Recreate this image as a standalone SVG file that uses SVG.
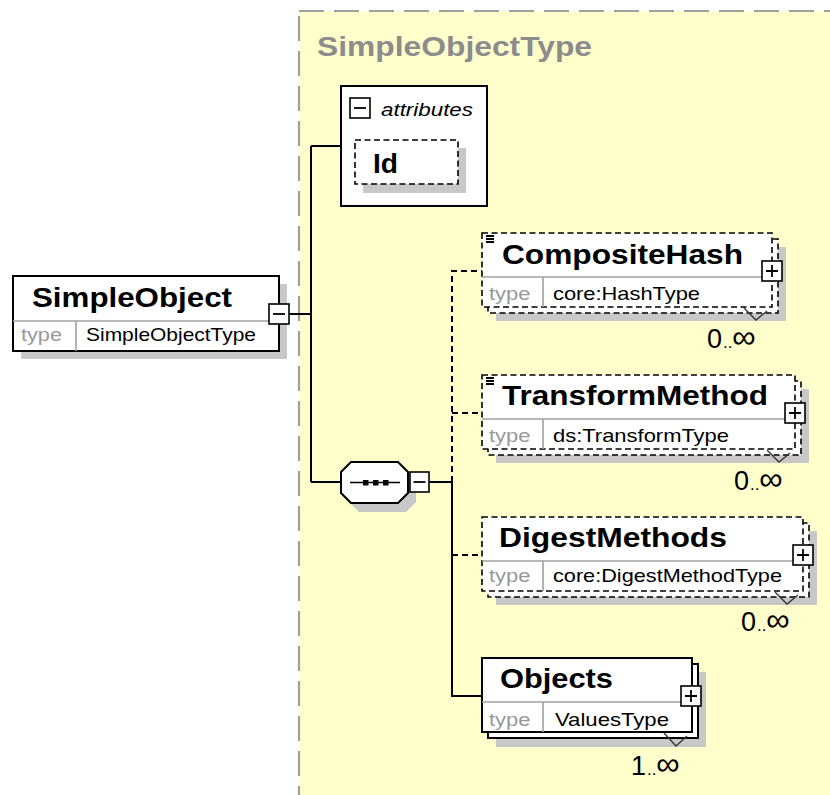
<svg xmlns="http://www.w3.org/2000/svg" width="830" height="795" viewBox="0 0 830 795">
  <style>
    .name { font-family: "Liberation Sans", Arial, sans-serif; font-weight: bold; font-size: 28px; fill: #000; }
    .small { font-family: "Liberation Sans", Arial, sans-serif; font-size: 18.5px; fill: #000; }
    .lbl { fill: #999; }
    .card { font-family: "Liberation Sans", Arial, sans-serif; fill: #000; }
    .big { font-size: 27px; }
    .dots { font-size: 17px; }
    .inf { font-size: 33px; }
    .box { fill: #fff; stroke: #000; stroke-width: 2; }
    .dbox { fill: #fff; stroke: #000; stroke-width: 1.6; stroke-dasharray: 6 3.5; }
    .shadow { fill: #c8c8c8; }
    .sep { stroke: #a0a0a0; stroke-width: 1.6; }
    .btn { fill: #fff; stroke: #000; stroke-width: 1.6; }
    .glyph { stroke: #000; stroke-width: 1.8; fill: none; }
    .wire { stroke: #000; stroke-width: 2; fill: none; }
    .dwire { stroke: #000; stroke-width: 2; fill: none; stroke-dasharray: 6 4; }
    .notch { stroke: #333; stroke-width: 1.3; fill: none; }
  </style>

  <rect width="830" height="795" fill="#fff"/>

  <!-- complex type area -->
  <g id="SimpleObjectType">
    <rect x="299" y="11" width="560" height="820" fill="#ffffcc" stroke="#a0a0a0" stroke-width="2.2" stroke-dasharray="25 10"/>
    <text x="317" y="56" font-family="Liberation Sans, Arial, sans-serif" font-weight="bold" font-size="27" fill="#8c8c8c" textLength="275" lengthAdjust="spacingAndGlyphs">SimpleObjectType</text>
  </g>

  <!-- connectors -->
  <g id="connectors">
    <path class="wire" d="M289,314 H311 M311,146 V482 M311,146 H341 M311,482 H341"/>
    <path class="wire" d="M429,482 H452 V696 H482"/>
    <path class="dwire" d="M452,482 V271 H482 M452,413 H482 M452,555 H482"/>
  </g>

  <!-- root element -->
  <g id="SimpleObject">
    <rect class="shadow" x="21" y="284" width="266" height="75"/>
    <rect class="box" x="13" y="276" width="266" height="75"/>
    <line class="sep" x1="13" y1="321" x2="279" y2="321"/>
    <line class="sep" x1="76" y1="321" x2="76" y2="351"/>
    <text class="name" x="32" y="307" textLength="200" lengthAdjust="spacingAndGlyphs">SimpleObject</text>
    <text class="small lbl" x="21" y="341" textLength="41" lengthAdjust="spacingAndGlyphs">type</text>
    <text class="small" x="86" y="341" textLength="170" lengthAdjust="spacingAndGlyphs">SimpleObjectType</text>
    <rect class="btn" x="269" y="304" width="20" height="20"/>
    <line class="glyph" x1="273" y1="314" x2="285" y2="314"/>
  </g>

  <!-- attributes -->
  <g id="attributes">
    <rect class="box" x="341" y="86" width="146" height="120"/>
    <rect class="btn" x="350" y="98" width="20" height="20"/>
    <line class="glyph" x1="354" y1="108" x2="366" y2="108"/>
    <text x="381" y="116" font-family="Liberation Sans, Arial, sans-serif" font-style="italic" font-size="19" fill="#000" textLength="92" lengthAdjust="spacingAndGlyphs">attributes</text>
  </g>
  <g id="Id">
    <rect class="shadow" x="363" y="148" width="103" height="45"/>
    <rect class="dbox" x="355" y="140" width="103" height="44"/>
    <text class="name" x="373" y="173" font-size="29" textLength="25" lengthAdjust="spacingAndGlyphs">Id</text>
  </g>

  <!-- sequence compositor -->
  <g id="sequence">
    <polygon class="shadow" points="359,471 406,471 416,481 416,502 406,512 359,512 349,502 349,481"/>
    <polygon class="box" points="351,462 398,462 408,472 408,493 398,503 351,503 341,493 341,472"/>
    <line x1="350" y1="482.5" x2="400" y2="482.5" stroke="#000" stroke-width="1.6"/>
    <rect x="363" y="480" width="5.5" height="5.5" fill="#000"/>
    <rect x="373" y="480" width="5.5" height="5.5" fill="#000"/>
    <rect x="383" y="480" width="5.5" height="5.5" fill="#000"/>
    <rect class="btn" x="410" y="472" width="19" height="20"/>
    <line class="glyph" x1="413.5" y1="482" x2="425.5" y2="482"/>
  </g>

  <!-- CompositeHash -->
  <g id="CompositeHash">
    <rect class="shadow" x="496" y="247" width="290" height="74"/>
    <rect class="dbox" x="488" y="239" width="290" height="74"/>
    <rect class="dbox" x="482" y="233" width="290" height="74"/>
    <path class="glyph" stroke-width="1.4" d="M486,236 H494 M486,239 H494 M486,242 H494"/>
    <line class="sep" x1="482" y1="277" x2="772" y2="277"/>
    <line class="sep" x1="543" y1="277" x2="543" y2="307"/>
    <text class="name" x="502" y="264" textLength="241" lengthAdjust="spacingAndGlyphs">CompositeHash</text>
    <text class="small lbl" x="489" y="300" textLength="41.5" lengthAdjust="spacingAndGlyphs">type</text>
    <text class="small" x="553" y="300" textLength="147" lengthAdjust="spacingAndGlyphs">core:HashType</text>
    <rect class="btn" x="762" y="261" width="20" height="20"/>
    <path class="glyph" d="M766,271 H778 M772,265 V277"/>
    <path class="notch" d="M744,308 L756,320 L767,311"/>
    <text class="card" y="348"><tspan class="big" x="707">0</tspan><tspan class="dots" x="723">..</tspan><tspan class="inf" x="732">∞</tspan></text>
  </g>

  <!-- TransformMethod -->
  <g id="TransformMethod">
    <rect class="shadow" x="496" y="389" width="313" height="74"/>
    <rect class="dbox" x="488" y="381" width="313" height="74"/>
    <rect class="dbox" x="482" y="375" width="313" height="74"/>
    <path class="glyph" stroke-width="1.4" d="M486,378 H494 M486,381 H494 M486,384 H494"/>
    <line class="sep" x1="482" y1="419" x2="795" y2="419"/>
    <line class="sep" x1="543" y1="419" x2="543" y2="449"/>
    <text class="name" x="502" y="405" textLength="266" lengthAdjust="spacingAndGlyphs">TransformMethod</text>
    <text class="small lbl" x="489" y="442" textLength="41.5" lengthAdjust="spacingAndGlyphs">type</text>
    <text class="small" x="553" y="442" textLength="176" lengthAdjust="spacingAndGlyphs">ds:TransformType</text>
    <rect class="btn" x="785" y="403" width="20" height="20"/>
    <path class="glyph" d="M789,413 H801 M795,407 V419"/>
    <path class="notch" d="M767,450 L779,462 L790,453"/>
    <text class="card" y="490"><tspan class="big" x="734">0</tspan><tspan class="dots" x="750">..</tspan><tspan class="inf" x="759">∞</tspan></text>
  </g>

  <!-- DigestMethods -->
  <g id="DigestMethods">
    <rect class="shadow" x="496" y="531" width="321" height="74"/>
    <rect class="dbox" x="488" y="523" width="321" height="74"/>
    <rect class="dbox" x="482" y="517" width="321" height="74"/>
    <line class="sep" x1="482" y1="561" x2="803" y2="561"/>
    <line class="sep" x1="543" y1="561" x2="543" y2="591"/>
    <text class="name" x="499" y="547" textLength="228" lengthAdjust="spacingAndGlyphs">DigestMethods</text>
    <text class="small lbl" x="489" y="582" textLength="41.5" lengthAdjust="spacingAndGlyphs">type</text>
    <text class="small" x="553" y="582" textLength="229" lengthAdjust="spacingAndGlyphs">core:DigestMethodType</text>
    <rect class="btn" x="793" y="545" width="20" height="20"/>
    <path class="glyph" d="M797,555 H809 M803,549 V561"/>
    <path class="notch" d="M775,592 L787,604 L798,595"/>
    <text class="card" y="631"><tspan class="big" x="741">0</tspan><tspan class="dots" x="757">..</tspan><tspan class="inf" x="766">∞</tspan></text>
  </g>

  <!-- Objects -->
  <g id="Objects">
    <rect class="shadow" x="496" y="672" width="210" height="75"/>
    <rect class="box" x="488" y="664" width="210" height="74"/>
    <rect class="box" x="482" y="658" width="210" height="74"/>
    <line class="sep" x1="482" y1="702" x2="692" y2="702"/>
    <line class="sep" x1="543" y1="702" x2="543" y2="732"/>
    <text class="name" x="500" y="688" textLength="113" lengthAdjust="spacingAndGlyphs">Objects</text>
    <text class="small lbl" x="489" y="726" textLength="41.5" lengthAdjust="spacingAndGlyphs">type</text>
    <text class="small" x="555" y="726" textLength="114" lengthAdjust="spacingAndGlyphs">ValuesType</text>
    <rect class="btn" x="681" y="686" width="20" height="20"/>
    <path class="glyph" d="M685,696 H697 M691,690 V702"/>
    <path class="notch" d="M664,733 L676,746 L687,736"/>
    <text class="card" y="775"><tspan class="big" x="631">1</tspan><tspan class="dots" x="647">..</tspan><tspan class="inf" x="656">∞</tspan></text>
  </g>
</svg>
